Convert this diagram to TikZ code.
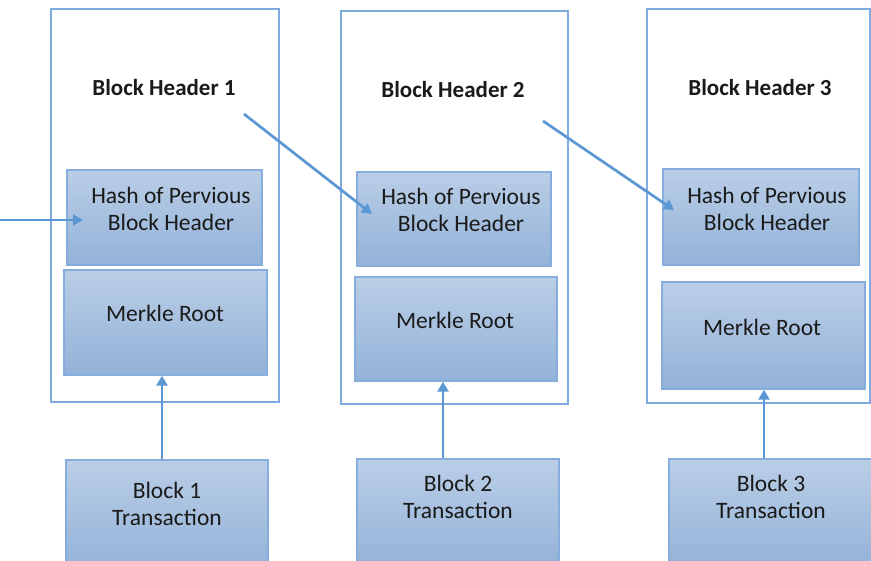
\documentclass[tikz,border=0pt]{standalone}
\usepackage{fontspec}
\setmainfont{Carlito}
\usetikzlibrary{arrows.meta}
\definecolor{frameblue}{HTML}{7EAADF}
\definecolor{boxtop}{HTML}{BACEE6}
\definecolor{boxbot}{HTML}{93B2D8}
\definecolor{boxedge}{HTML}{86ADDD}
\definecolor{arrowblue}{HTML}{5B97D2}
\definecolor{inktext}{HTML}{1A1A1A}
\tikzset{
  frame/.style={draw=frameblue, line width=1.4pt, inner sep=0pt},
  cell/.style={draw=boxedge, line width=1.4pt, top color=boxtop, bottom color=boxbot, inner sep=0pt},
  label text/.style={text=inktext, font=\fontsize{23.5}{27}\selectfont, align=center, inner sep=0pt},
  title text/.style={text=inktext, font=\fontsize{23}{27}\selectfont\bfseries, inner sep=0pt},
  arr/.style={draw=arrowblue, line width=2.7pt, -{Triangle[width=11pt,length=10pt]}}
}
\begin{document}
\begin{tikzpicture}[x=1pt, y=-1pt]
\useasboundingbox (0,0) rectangle (871,561);

% block header frames
\node[frame, minimum width=228pt, minimum height=393pt] (f1) at (165,205.5) {};
\node[frame, minimum width=227pt, minimum height=393pt] (f2) at (454.5,207.5) {};
\node[frame, minimum width=223pt, minimum height=394pt] (f3) at (758.5,206) {};

% titles
\node[title text] (t1) at (164,88) {Block Header 1};
\node[title text] (t2) at (453,90) {Block Header 2};
\node[title text] (t3) at (760,88) {Block Header 3};

% hash of previous header cells
\node[cell, minimum width=195pt, minimum height=95pt] (h1) at (164.5,217.5) {};
\node[cell, minimum width=194pt, minimum height=94pt] (h2) at (454,219) {};
\node[cell, minimum width=196pt, minimum height=96pt] (h3) at (761,217) {};
\node[label text] (h1t) at (171,209) {Hash of Pervious\\Block Header};
\node[label text] (h2t) at (461,210) {Hash of Pervious\\Block Header};
\node[label text] (h3t) at (767,209) {Hash of Pervious\\Block Header};

% merkle root cells
\node[cell, minimum width=203pt, minimum height=105pt] (m1) at (165.5,322.5) {};
\node[cell, minimum width=202pt, minimum height=104pt] (m2) at (456,329) {};
\node[cell, minimum width=203pt, minimum height=107pt] (m3) at (763.5,335.5) {};
\node[label text] (m1t) at (165,313) {Merkle Root};
\node[label text] (m2t) at (455,320) {Merkle Root};
\node[label text] (m3t) at (762,327) {Merkle Root};

% transaction cells (running off the lower edge)
\node[cell, minimum width=202pt, minimum height=110pt] (x1) at (167,515) {};
\node[cell, minimum width=202pt, minimum height=110pt] (x2) at (458,514) {};
\node[cell, minimum width=211pt, minimum height=110pt] (x3) at (774.5,514) {};
\node[label text] (x1t) at (167,503.5) {Block 1\\Transaction};
\node[label text] (x2t) at (458,497) {Block 2\\Transaction};
\node[label text] (x3t) at (771,496.5) {Block 3\\Transaction};

% chain links
\coordinate (inL) at (0,220);
\coordinate (inR) at (83,220);
\coordinate (d1s) at (244,114);
\coordinate (d1e) at (372,214);
\coordinate (d2s) at (543,121);
\coordinate (d2e) at (674,210);
\draw[arr] (inL) -- (inR);
\draw[arr] (d1s) -- (d1e);
\draw[arr] (d2s) -- (d2e);

% transactions feed the merkle roots
\coordinate (v1) at (162,0);
\coordinate (v2) at (443,0);
\coordinate (v3) at (764,0);
\draw[arr] (v1 |- x1.north) -- (v1 |- m1.south);
\draw[arr] (v2 |- x2.north) -- (v2 |- m2.south);
\draw[arr] (v3 |- x3.north) -- (v3 |- m3.south);
\end{tikzpicture}
\end{document}
